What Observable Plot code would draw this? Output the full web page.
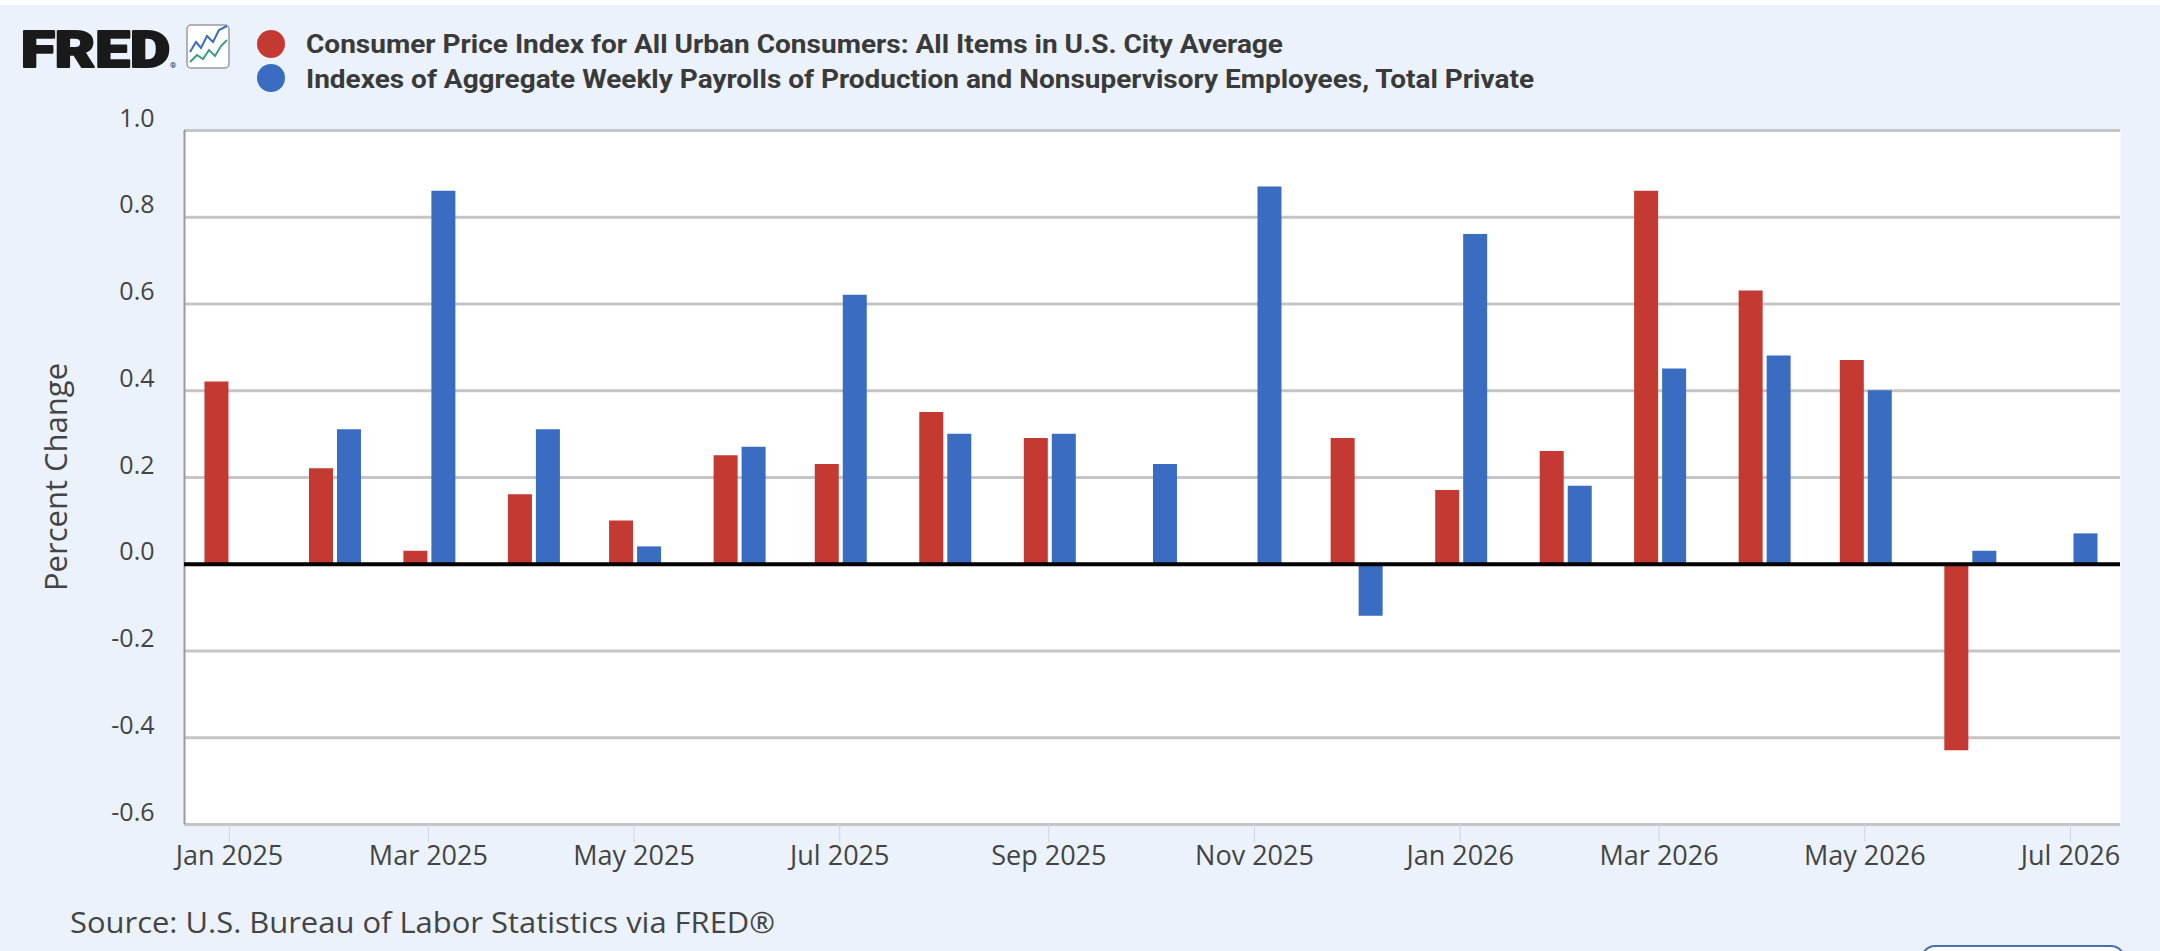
<!DOCTYPE html>
<html>
<head>
<meta charset="utf-8">
<script src="https://cdn.jsdelivr.net/npm/d3@7"></script>
<script src="https://cdn.jsdelivr.net/npm/@observablehq/plot@0.6"></script>
<style>
  body { margin: 0; background: #ebf2fb; }
  #page { position: relative; width: 2160px; height: 951px; overflow: hidden; background: #ebf2fb; }
  #topband { position: absolute; left: 0; top: 0; width: 2160px; height: 5px; background: #fff; }
  #head { position: absolute; left: 0; top: 0; }
  #chart { position: absolute; left: 0; top: 95px; }
  #ytitle {
    position: absolute; left: 55px; top: 477px;
    transform: translate(-50%, -50%) rotate(-90deg);
    font: 31px "Open Sans"; color: #444; white-space: nowrap;
  }
  #button { position: absolute; left: 1921px; top: 945px; width: 200px; height: 40px;
    border: 2px solid #4a6fb0; border-radius: 14px; background: #fff; }
</style>
</head>
<body>
<div id="page">
  <div id="topband"></div>
  <svg id="head" width="2160" height="951">
    <text x="21" y="67" font-family="Roboto" font-weight="900" font-size="50" fill="#1a1a1a"
      stroke="#1a1a1a" stroke-width="2.2" stroke-linejoin="round"
      textLength="149" lengthAdjust="spacingAndGlyphs">FRED</text>
    <text x="170" y="68" font-family="Roboto" font-size="8" fill="#1a1a1a">®</text>
    <rect x="187" y="25" width="42" height="43" rx="4" fill="#fff" stroke="#9a9a9a" stroke-width="1.5"></rect>
    <polyline points="190,52 196,42 201,48 207,36 213,42 219,30 227,26" fill="none" stroke="#3a6cc2" stroke-width="2"></polyline>
    <polyline points="190,62 197,55 203,59 209,50 215,56 221,46 227,40" fill="none" stroke="#3d9a86" stroke-width="2"></polyline>
    <circle cx="271" cy="44" r="14" fill="#c43a32"></circle>
    <circle cx="271" cy="78" r="14" fill="#3a6cc2"></circle>
    <text x="306" y="53" font-family="Roboto" font-weight="700" font-size="26" fill="#3a3a3a"
      textLength="977" lengthAdjust="spacingAndGlyphs">Consumer Price Index for All Urban Consumers: All Items in U.S. City Average</text>
    <text x="306" y="88" font-family="Roboto" font-weight="700" font-size="26" fill="#3a3a3a"
      textLength="1228" lengthAdjust="spacingAndGlyphs">Indexes of Aggregate Weekly Payrolls of Production and Nonsupervisory Employees, Total Private</text>
    <text x="70" y="933" font-family="Open Sans" font-size="29" fill="#444"
      textLength="705" lengthAdjust="spacingAndGlyphs">Source: U.S. Bureau of Labor Statistics via FRED®</text>
  </svg>
  <div id="chart"></div>
  <div id="ytitle">Percent Change</div>
  <div id="button"></div>
</div>
<script>
// monthly percent change
const months = [
  '2025-01-01', '2025-02-01', '2025-03-01', '2025-04-01', '2025-05-01', '2025-06-01',
  '2025-07-01', '2025-08-01', '2025-09-01', '2025-10-01', '2025-11-01', '2025-12-01',
  '2026-01-01', '2026-02-01', '2026-03-01', '2026-04-01', '2026-05-01', '2026-06-01',
  '2026-07-01'
]
// CPI-U, all items (no value for Oct/Nov 2025 and Jul 2026)
const cpi = [0.42, 0.22, 0.03, 0.16, 0.10, 0.25, 0.23, 0.35, 0.29, null, null, 0.29,
  0.17, 0.26, 0.86, 0.63, 0.47, -0.43, null]
// aggregate weekly payrolls, production & nonsupervisory, total private
const payrolls = [null, 0.31, 0.86, 0.31, 0.04, 0.27, 0.62, 0.30, 0.30, 0.23, 0.87, -0.12,
  0.76, 0.18, 0.45, 0.48, 0.40, 0.03, 0.07]
const yTicks = [-0.6, -0.4, -0.2, 0.0, 0.2, 0.4, 0.6, 0.8, 1.0]
const xStart = new Date('2024-12-18T16:00:00Z')
const xEnd = new Date('2026-07-15T20:00:00Z')

const red = '#c43a32'
const blue = '#3a6cc2'

const toRows = values => months
  .map((m, i) => ({ date: new Date(m), value: values[i] }))
  .filter(d => d.value != null)

const cpiRows = toRows(cpi)
const payRows = toRows(payrolls)

let chart = Plot.plot({
  width: 2160,
  height: 789,
  marginTop: 35,
  marginBottom: 60,
  marginLeft: 184,
  marginRight: 40,
  style: { background: 'transparent', fontFamily: 'Open Sans', color: '#444' },
  x: { type: 'utc', domain: [xStart, xEnd] },
  y: { domain: [-0.6, 1.0] },
  marks: [
    Plot.frame({ fill: 'white', stroke: null }),
    Plot.gridY(yTicks, { stroke: '#c5c5c5', strokeWidth: 3, strokeOpacity: 1 }),
    Plot.ruleX([xStart], { stroke: '#9a9a9a', strokeWidth: 2 }),
    // bars drawn as thick rules so they sit on the real month dates
    Plot.ruleX(cpiRows, { x: 'date', y1: 0, y2: 'value', stroke: red, strokeWidth: 24, dx: -13 }),
    Plot.ruleX(payRows, { x: 'date', y1: 0, y2: 'value', stroke: blue, strokeWidth: 24, dx: 15 }),
    Plot.ruleY([0], { stroke: 'black', strokeWidth: 4 }),
    Plot.axisY(yTicks, {
      tickSize: 0, tickPadding: 30, dy: -12, fontSize: 25, label: null,
      tickFormat: d => d.toFixed(1), fill: '#444',
    }),
    Plot.axisX({
      ticks: d3.utcMonth.every(2), tickFormat: d3.utcFormat('%b %Y'),
      tickSize: 18, tickPadding: 3, fontSize: 27, label: null,
      stroke: '#cbd4e2', fill: '#444',
    }),
  ],
})

d3.select('#chart').append(() => chart)
</script>
</body>
</html>
